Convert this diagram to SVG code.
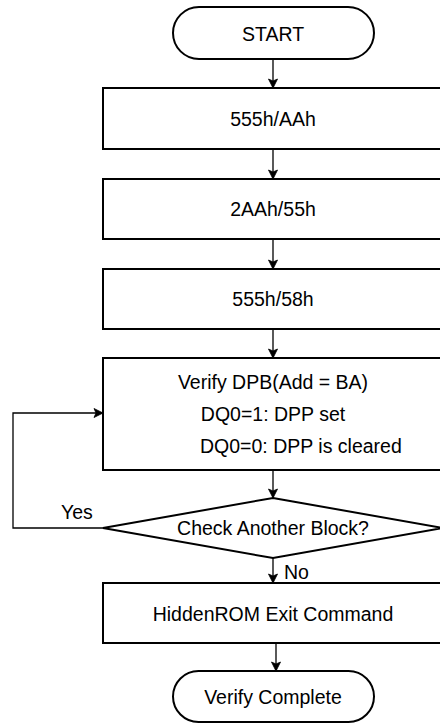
<svg xmlns="http://www.w3.org/2000/svg" width="440" height="723" viewBox="0 0 440 723">
<style>
.shape{fill:#ffffff;stroke:#000000;stroke-width:2}
.conn{fill:none;stroke:#000000;stroke-width:1.3}
.t{font-family:"Liberation Sans",Arial,sans-serif;font-size:19.5px;fill:#000000}
.c{text-anchor:middle}
</style>
<defs>
<marker id="arr" markerUnits="userSpaceOnUse" markerWidth="12" markerHeight="12" refX="10" refY="5" orient="auto">
<path d="M1,0.5 L10,5 L1,9.5 L3,5 Z" fill="#000000" stroke="#000000" stroke-width="0.8"/>
</marker>
</defs>
<rect width="440" height="723" fill="#ffffff"/>
<g id="connectors">
<line class="conn" x1="273" y1="59" x2="273" y2="88" marker-end="url(#arr)"/>
<line class="conn" x1="273" y1="149" x2="273" y2="179" marker-end="url(#arr)"/>
<line class="conn" x1="273" y1="239" x2="273" y2="269" marker-end="url(#arr)"/>
<line class="conn" x1="273" y1="329" x2="273" y2="358" marker-end="url(#arr)"/>
<line class="conn" x1="273" y1="470" x2="273" y2="498" marker-end="url(#arr)"/>
<polyline class="conn" points="103,528 13,528 13,413 103,413" marker-end="url(#arr)"/>
<line class="conn" x1="273" y1="558" x2="273" y2="583" marker-end="url(#arr)"/>
<line class="conn" x1="276" y1="643" x2="276" y2="671" marker-end="url(#arr)"/>
<text class="t" x="61" y="519">Yes</text>
<text class="t" x="284" y="579">No</text>
</g>
<g id="start">
<rect class="shape" x="173" y="7" width="201" height="52" rx="26" ry="26"/>
<text class="t c" x="273" y="41">START</text>
</g>
<g id="step1">
<rect class="shape" x="103" y="88" width="340" height="61"/>
<text class="t c" x="273" y="126">555h/AAh</text>
</g>
<g id="step2">
<rect class="shape" x="103" y="179" width="340" height="60"/>
<text class="t c" x="273" y="216">2AAh/55h</text>
</g>
<g id="step3">
<rect class="shape" x="103" y="269" width="340" height="60"/>
<text class="t c" x="273" y="306">555h/58h</text>
</g>
<g id="verify">
<rect class="shape" x="103" y="358" width="340" height="112"/>
<text class="t c" x="273" y="389">Verify DPB(Add = BA)</text>
<text class="t c" x="273" y="421">DQ0=1: DPP set</text>
<text class="t" x="200" y="453">DQ0=0: DPP is cleared</text>
</g>
<g id="decision">
<polygon class="shape" points="273,498 443,528 273,558 103,528"/>
<text class="t c" x="273" y="535">Check Another Block?</text>
</g>
<g id="exit">
<rect class="shape" x="103" y="583" width="340" height="60"/>
<text class="t c" x="273" y="621">HiddenROM Exit Command</text>
</g>
<g id="end">
<rect class="shape" x="173" y="671" width="201" height="51" rx="25.5" ry="25.5"/>
<text class="t c" x="273" y="704">Verify Complete</text>
</g>
</svg>
